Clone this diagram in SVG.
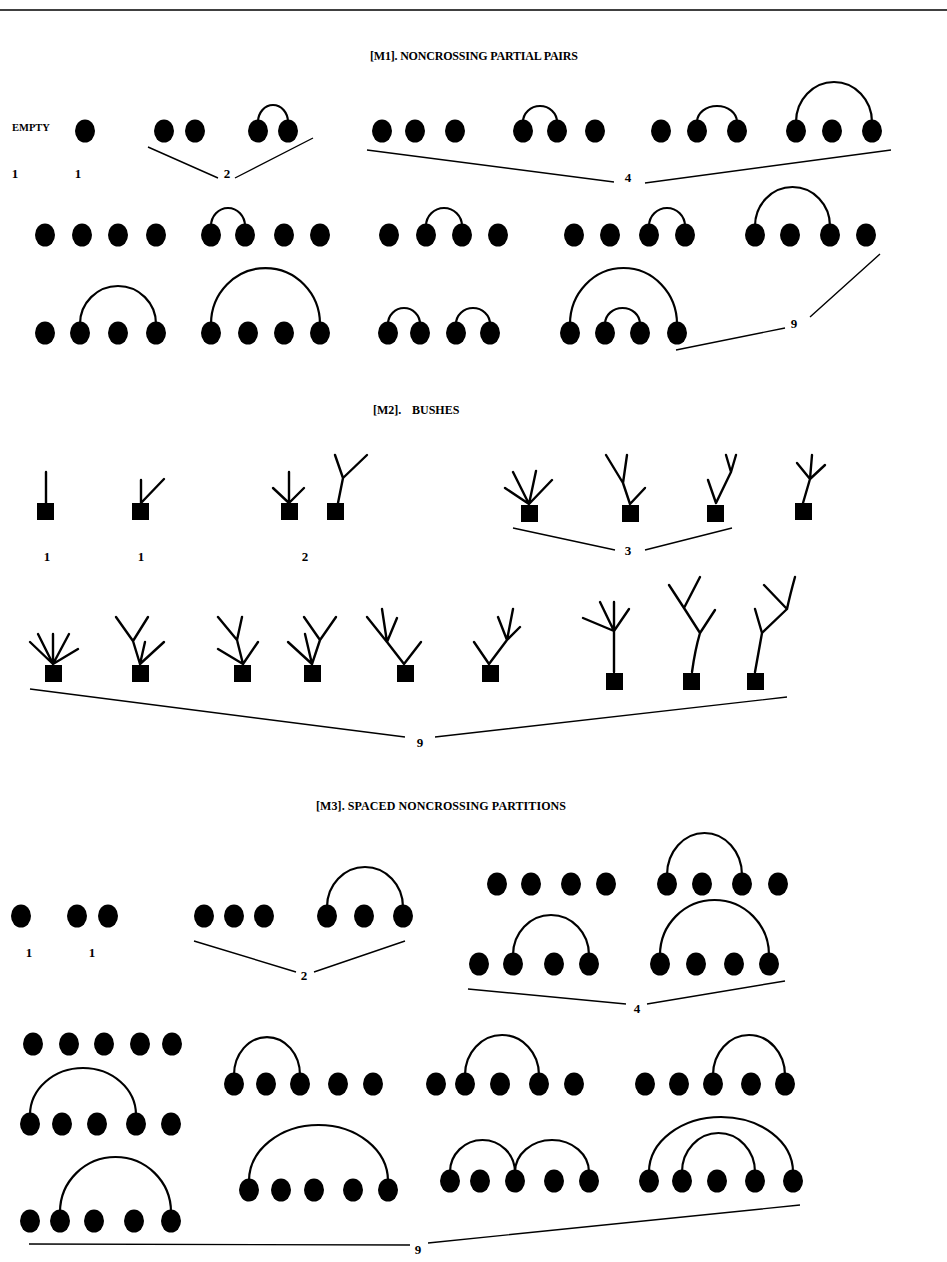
<svg xmlns="http://www.w3.org/2000/svg" xmlns:xlink="http://www.w3.org/1999/xlink" width="947" height="1262" viewBox="0 0 947 1262">
<style>
.t{font-family:"Liberation Serif","DejaVu Serif",serif;font-weight:bold;fill:#000}
.ttl{font-size:12px}
.num{font-size:13px;text-anchor:middle}
.arc{fill:none;stroke:#000;stroke-width:2.2}
.ln{fill:none;stroke:#000;stroke-width:1.4}
.br{fill:none;stroke:#000;stroke-width:2.4;stroke-linecap:round;stroke-linejoin:round}
.sq{fill:#000}
</style>
<defs>
<ellipse id="d" cx="0" cy="0" rx="10" ry="11.5" fill="#000"/>
</defs>
<rect width="947" height="1262" fill="#fff"/>
<line x1="0" y1="10" x2="947" y2="10" stroke="#000" stroke-width="1.5"/>

<g id="titles">
<text class="t ttl" x="370" y="60" textLength="208" lengthAdjust="spacing">[M1]. NONCROSSING PARTIAL PAIRS</text>
<text class="t ttl" y="414"><tspan x="373">[M2].</tspan><tspan x="412">BUSHES</tspan></text>
<text class="t ttl" x="316" y="810" textLength="250" lengthAdjust="spacing">[M3]. SPACED NONCROSSING PARTITIONS</text>
</g>

<g id="m1">
<text class="t" x="12" y="131" font-size="10.5">EMPTY</text>
<g id="m1-n1"><use href="#d" x="85" y="131"/></g>
<g id="m1-n2a"><use href="#d" x="164" y="131"/><use href="#d" x="195" y="131"/></g>
<g id="m1-n2b"><use href="#d" x="258" y="131"/><use href="#d" x="288" y="131"/><path class="arc" d="M258 122 A15 17 0 0 1 288 122"/></g>
<g id="m1-n3a"><use href="#d" x="382" y="131"/><use href="#d" x="415" y="131"/><use href="#d" x="455" y="131"/></g>
<g id="m1-n3b"><use href="#d" x="523" y="131"/><use href="#d" x="557" y="131"/><use href="#d" x="595" y="131"/><path class="arc" d="M523 122 A17 16 0 0 1 557 122"/></g>
<g id="m1-n3c"><use href="#d" x="661" y="131"/><use href="#d" x="697" y="131"/><use href="#d" x="737" y="131"/><path class="arc" d="M697 122 A20 16 0 0 1 737 122"/></g>
<g id="m1-n3d"><use href="#d" x="796" y="131"/><use href="#d" x="832" y="131"/><use href="#d" x="872" y="131"/><path class="arc" d="M796 122 A38 40 0 0 1 872 122"/></g>

<g id="m1-r2a"><use href="#d" x="45" y="235"/><use href="#d" x="82" y="235"/><use href="#d" x="118" y="235"/><use href="#d" x="156" y="235"/></g>
<g id="m1-r2b"><use href="#d" x="211" y="235"/><use href="#d" x="245" y="235"/><use href="#d" x="284" y="235"/><use href="#d" x="320" y="235"/><path class="arc" d="M211 226 A17 18 0 0 1 245 226"/></g>
<g id="m1-r2c"><use href="#d" x="389" y="235"/><use href="#d" x="426" y="235"/><use href="#d" x="462" y="235"/><use href="#d" x="498" y="235"/><path class="arc" d="M426 226 A18 18 0 0 1 462 226"/></g>
<g id="m1-r2d"><use href="#d" x="574" y="235"/><use href="#d" x="610" y="235"/><use href="#d" x="649" y="235"/><use href="#d" x="685" y="235"/><path class="arc" d="M649 226 A18 18 0 0 1 685 226"/></g>
<g id="m1-r2e"><use href="#d" x="755" y="235"/><use href="#d" x="790" y="235"/><use href="#d" x="830" y="235"/><use href="#d" x="866" y="235"/><path class="arc" d="M755 226 A37.5 39 0 0 1 830 226"/></g>

<g id="m1-r3a"><use href="#d" x="45" y="333"/><use href="#d" x="80" y="333"/><use href="#d" x="118" y="333"/><use href="#d" x="156" y="333"/><path class="arc" d="M80 324 A38 38 0 0 1 156 324"/></g>
<g id="m1-r3b"><use href="#d" x="211" y="333"/><use href="#d" x="248" y="333"/><use href="#d" x="284" y="333"/><use href="#d" x="320" y="333"/><path class="arc" d="M211 324 A54.5 56 0 0 1 320 324"/></g>
<g id="m1-r3c"><use href="#d" x="388" y="333"/><use href="#d" x="420" y="333"/><use href="#d" x="456" y="333"/><use href="#d" x="490" y="333"/><path class="arc" d="M388 324 A16 16 0 0 1 420 324"/><path class="arc" d="M456 324 A17 16 0 0 1 490 324"/></g>
<g id="m1-r3d"><use href="#d" x="570" y="333"/><use href="#d" x="605" y="333"/><use href="#d" x="640" y="333"/><use href="#d" x="677" y="333"/><path class="arc" d="M570 324 A53.5 56 0 0 1 677 324"/><path class="arc" d="M605 324 A17.5 16 0 0 1 640 324"/></g>

<text class="t num" x="15" y="178">1</text>
<text class="t num" x="78" y="178">1</text>
<text class="t num" x="227" y="178">2</text>
<text class="t num" x="628" y="182">4</text>
<text class="t num" x="794" y="328">9</text>
</g>

<g id="m2">
<g id="b1"><rect class="sq" x="37" y="503" width="17" height="17"/><path class="br" d="M46 503 V472"/></g>
<g id="b2"><rect class="sq" x="132" y="503" width="17" height="17"/><path class="br" d="M141 503 V480 M141 503 L164 479"/></g>
<g id="b3"><rect class="sq" x="281" y="503" width="17" height="17"/><path class="br" d="M289 503 V472 M289 503 L273 488 M289 503 L304 488"/></g>
<g id="b4"><rect class="sq" x="327" y="503" width="17" height="17"/><path class="br" d="M338 503 L343 478 L335 455 M343 478 L367 455"/></g>
<g id="b5"><rect class="sq" x="521" y="505" width="17" height="17"/><path class="br" d="M529 504 L505 488 M529 504 L513 472 M529 504 L536 471 M529 504 L552 480"/></g>
<g id="b6"><rect class="sq" x="622" y="505" width="17" height="17"/><path class="br" d="M630 504 L623 483 L606 455 M623 483 L627 455 M630 504 L645 488"/></g>
<g id="b7"><rect class="sq" x="707" y="505" width="17" height="17"/><path class="br" d="M716 503 L708 480 M716 503 L731 472 L726 455 M731 472 L736 455"/></g>
<g id="b8"><rect class="sq" x="795" y="503" width="17" height="17"/><path class="br" d="M803 503 L810 479 L797 463 M810 479 L812 455 M810 479 L825 465"/></g>

<g id="b9"><rect class="sq" x="45" y="665" width="17" height="17"/><path class="br" d="M53 664 L30 642 M53 664 L38 634 M53 664 L53 634 M53 664 L69 634 M53 664 L78 649"/></g>
<g id="b10"><rect class="sq" x="132" y="665" width="17" height="17"/><path class="br" d="M140 664 L133 641 L116 617 M133 641 L148 617 M140 664 L145 642 M140 664 L164 642"/></g>
<g id="b11"><rect class="sq" x="234" y="665" width="17" height="17"/><path class="br" d="M243 664 L237 640 L218 617 M237 640 L242 617 M243 664 L218 649 M243 664 L258 642"/></g>
<g id="b12"><rect class="sq" x="304" y="665" width="17" height="17"/><path class="br" d="M312 664 L288 642 M312 664 L305 634 M312 664 L320 640 L304 617 M320 640 L336 617"/></g>
<g id="b13"><rect class="sq" x="397" y="665" width="17" height="17"/><path class="br" d="M404 664 L387 642 L367 617 M387 642 L382 609 M387 642 L397 618 M404 664 L421 642"/></g>
<g id="b14"><rect class="sq" x="482" y="665" width="17" height="17"/><path class="br" d="M489 664 L474 642 M489 664 L507 640 L498 617 M507 640 L513 609 M507 640 L520 627"/></g>
<g id="b15"><rect class="sq" x="606" y="673" width="17" height="17"/><path class="br" d="M614 672 L614 631 L583 618 M614 631 L600 602 M614 631 L614 602 M614 631 L629 609"/></g>
<g id="b16"><rect class="sq" x="683" y="673" width="17" height="17"/><path class="br" d="M692 672 Q695 650 700 633 L684 608 L669 585 M684 608 L700 577 M700 633 L715 610"/></g>
<g id="b17"><rect class="sq" x="747" y="673" width="17" height="17"/><path class="br" d="M755 672 L762 633 L755 609 M762 633 L787 609 L764 585 M787 609 Q790 595 795 577"/></g>

<text class="t num" x="47" y="561">1</text>
<text class="t num" x="141" y="561">1</text>
<text class="t num" x="305" y="561">2</text>
<text class="t num" x="628" y="555">3</text>
<text class="t num" x="420" y="747">9</text>
</g>

<g id="m3">
<g id="m3-n1"><use href="#d" x="21" y="916"/></g>
<g id="m3-n2"><use href="#d" x="77" y="916"/><use href="#d" x="108" y="916"/></g>
<g id="m3-n3a"><use href="#d" x="204" y="916"/><use href="#d" x="234" y="916"/><use href="#d" x="264" y="916"/></g>
<g id="m3-n3b"><use href="#d" x="327" y="916"/><use href="#d" x="364" y="916"/><use href="#d" x="403" y="916"/><path class="arc" d="M327 907 A38 40 0 0 1 403 907"/></g>
<g id="m3-n4a"><use href="#d" x="497" y="884"/><use href="#d" x="531" y="884"/><use href="#d" x="571" y="884"/><use href="#d" x="606" y="884"/></g>
<g id="m3-n4b"><use href="#d" x="667" y="884"/><use href="#d" x="702" y="884"/><use href="#d" x="742" y="884"/><use href="#d" x="778" y="884"/><path class="arc" d="M667 875 A37.5 42 0 0 1 742 875"/></g>
<g id="m3-n4c"><use href="#d" x="479" y="964"/><use href="#d" x="513" y="964"/><use href="#d" x="554" y="964"/><use href="#d" x="589" y="964"/><path class="arc" d="M513 955 A38 40 0 0 1 589 955"/></g>
<g id="m3-n4d"><use href="#d" x="660" y="964"/><use href="#d" x="696" y="964"/><use href="#d" x="734" y="964"/><use href="#d" x="769" y="964"/><path class="arc" d="M660 955 A54.5 55 0 0 1 769 955"/></g>

<g id="m3-n5a"><use href="#d" x="33" y="1044"/><use href="#d" x="69" y="1044"/><use href="#d" x="104" y="1044"/><use href="#d" x="140" y="1044"/><use href="#d" x="172" y="1044"/></g>
<g id="m3-n5b"><use href="#d" x="30" y="1124"/><use href="#d" x="62" y="1124"/><use href="#d" x="97" y="1124"/><use href="#d" x="136" y="1124"/><use href="#d" x="171" y="1124"/><path class="arc" d="M30 1115 A53 47 0 0 1 136 1115"/></g>
<g id="m3-n5c"><use href="#d" x="30" y="1221"/><use href="#d" x="60" y="1221"/><use href="#d" x="94" y="1221"/><use href="#d" x="134" y="1221"/><use href="#d" x="171" y="1221"/><path class="arc" d="M60 1212 A55.5 55 0 0 1 171 1212"/></g>
<g id="m3-n5d"><use href="#d" x="234" y="1084"/><use href="#d" x="266" y="1084"/><use href="#d" x="300" y="1084"/><use href="#d" x="338" y="1084"/><use href="#d" x="373" y="1084"/><path class="arc" d="M234 1075 A33 38 0 0 1 300 1075"/></g>
<g id="m3-n5e"><use href="#d" x="436" y="1084"/><use href="#d" x="465" y="1084"/><use href="#d" x="500" y="1084"/><use href="#d" x="539" y="1084"/><use href="#d" x="574" y="1084"/><path class="arc" d="M465 1075 A37 40 0 0 1 539 1075"/></g>
<g id="m3-n5f"><use href="#d" x="645" y="1084"/><use href="#d" x="679" y="1084"/><use href="#d" x="713" y="1084"/><use href="#d" x="751" y="1084"/><use href="#d" x="785" y="1084"/><path class="arc" d="M713 1075 A36 40 0 0 1 785 1075"/></g>
<g id="m3-n5g"><use href="#d" x="249" y="1190"/><use href="#d" x="281" y="1190"/><use href="#d" x="314" y="1190"/><use href="#d" x="353" y="1190"/><use href="#d" x="388" y="1190"/><path class="arc" d="M249 1181 A69.5 56 0 0 1 388 1181"/></g>
<g id="m3-n5h"><use href="#d" x="450" y="1181"/><use href="#d" x="480" y="1181"/><use href="#d" x="515" y="1181"/><use href="#d" x="554" y="1181"/><use href="#d" x="589" y="1181"/><path class="arc" d="M450 1172 A32.5 32 0 0 1 515 1172"/><path class="arc" d="M515 1172 A37 32 0 0 1 589 1172"/></g>
<g id="m3-n5i"><use href="#d" x="649" y="1181"/><use href="#d" x="682" y="1181"/><use href="#d" x="717" y="1181"/><use href="#d" x="755" y="1181"/><use href="#d" x="793" y="1181"/><path class="arc" d="M649 1172 A72 55 0 0 1 793 1172"/><path class="arc" d="M682 1172 A36.5 39 0 0 1 755 1172"/></g>

<text class="t num" x="29" y="957">1</text>
<text class="t num" x="92" y="957">1</text>
<text class="t num" x="304" y="980">2</text>
<text class="t num" x="637" y="1013">4</text>
<text class="t num" x="418" y="1254">9</text>
</g>

<g id="connectors">
<path class="ln" d="M148 147 L218 178 M235 178 L313 138"/>
<path class="ln" d="M367 150 L614 182 M645 183 L891 150"/>
<path class="ln" d="M676 350 L785 328 M810 317 L880 254"/>
<path class="ln" d="M513 528 L615 550 M645 550 L732 528"/>
<path class="ln" d="M30 689 L405 737 M435 737 L787 697"/>
<path class="ln" d="M194 941 L296 972 M314 972 L405 941"/>
<path class="ln" d="M468 989 L626 1004 M647 1004 L785 981"/>
<path class="ln" d="M29 1244 L410 1245 M428 1243 L800 1205"/>
</g>
</svg>
